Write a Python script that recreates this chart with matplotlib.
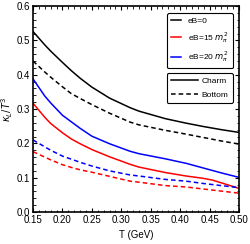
import matplotlib.pyplot as plt
from matplotlib.lines import Line2D
from matplotlib.ticker import MultipleLocator

plt.rcParams['font.family'] = ['Liberation Sans', 'DejaVu Sans']
plt.rcParams['mathtext.fontset'] = 'dejavusans'

T = [0.15, 0.17, 0.18, 0.20, 0.215, 0.23, 0.25, 0.28, 0.315, 0.33,
     0.375, 0.41, 0.44, 0.455, 0.47, 0.50]

charm_eb0 = [0.526, 0.487, 0.469, 0.436, 0.412, 0.39, 0.364, 0.332, 0.304, 0.294,
             0.272, 0.259, 0.249, 0.2445, 0.24, 0.232]
bottom_eb0 = [0.44, 0.408, 0.393, 0.365, 0.345, 0.331, 0.313, 0.288, 0.262, 0.254,
              0.238, 0.227, 0.217, 0.212, 0.207, 0.198]
charm_eb15 = [0.317, 0.276, 0.258, 0.231, 0.213, 0.199, 0.182, 0.161, 0.139, 0.131,
              0.115, 0.105, 0.098, 0.093, 0.085, 0.069]
bottom_eb15 = [0.176, 0.16, 0.152, 0.138, 0.13, 0.123, 0.116, 0.104, 0.09, 0.087,
               0.077, 0.073, 0.067, 0.064, 0.061, 0.055]
charm_eb20 = [0.388, 0.338, 0.318, 0.282, 0.263, 0.244, 0.221, 0.199, 0.177, 0.17,
              0.155, 0.142, 0.128, 0.121, 0.114, 0.101]
bottom_eb20 = [0.21, 0.19, 0.18, 0.163, 0.154, 0.145, 0.134, 0.12, 0.108, 0.105,
               0.095, 0.09, 0.083, 0.08, 0.077, 0.071]

dash = (0, (3, 2))

fig = plt.figure(figsize=(2.5, 2.44), dpi=100)
ax = fig.add_axes([0.132, 0.131, 0.824, 0.844])

ax.plot(T, charm_eb0, color='black', lw=1.1)
ax.plot(T, bottom_eb0, color='black', lw=1.1, ls=dash)
ax.plot(T, charm_eb15, color='red', lw=1.1)
ax.plot(T, bottom_eb15, color='red', lw=1.1, ls=dash)
ax.plot(T, charm_eb20, color='blue', lw=1.1)
ax.plot(T, bottom_eb20, color='blue', lw=1.1, ls=dash)

ax.set_xlim(0.15, 0.50)
ax.set_ylim(0.0, 0.6)
ax.xaxis.set_major_locator(MultipleLocator(0.05))
ax.xaxis.set_minor_locator(MultipleLocator(0.01))
ax.yaxis.set_major_locator(MultipleLocator(0.1))
ax.yaxis.set_minor_locator(MultipleLocator(0.02))
ax.set_xticklabels([f'{v:.2f}' for v in ax.get_xticks()])
ax.set_yticklabels([f'{v:.1f}' for v in ax.get_yticks()])
ax.tick_params(which='both', direction='in', top=True, right=True, labelsize=7, pad=2)
ax.tick_params(which='major', length=3, width=0.8)
ax.tick_params(which='minor', length=1.8, width=0.6)
for s in ax.spines.values():
    s.set_linewidth(1.2)

ax.set_xlabel('T (GeV)', fontsize=7, labelpad=4)
ax.set_ylabel(r'$\kappa_L/T^3$', fontsize=7, labelpad=1)

h1 = [Line2D([], [], color='black', lw=1.1),
      Line2D([], [], color='red', lw=1.1),
      Line2D([], [], color='blue', lw=1.1)]
leg1 = ax.legend(h1, ['eB=0', r'eB=15 $m_\pi^2$', r'eB=20 $m_\pi^2$'],
                 loc='upper right', bbox_to_anchor=(0.99, 0.985), fontsize=6,
                 handlelength=1.2, handletextpad=0.8, labelspacing=0.55,
                 borderpad=0.5, fancybox=True, edgecolor='black', framealpha=1)
leg1.get_frame().set_linewidth(0.8)
ax.add_artist(leg1)

h2 = [Line2D([], [], color='black', lw=1.1),
      Line2D([], [], color='black', lw=1.1, ls=dash)]
leg2 = ax.legend(h2, ['Charm', 'Bottom'], loc='upper right',
                 bbox_to_anchor=(0.99, 0.694), fontsize=6,
                 handlelength=3.2, handletextpad=0.5, labelspacing=0.7,
                 borderpad=0.5, fancybox=True, edgecolor='black', framealpha=1)
leg2.get_frame().set_linewidth(0.8)

fig.savefig('out.png', dpi=100)
